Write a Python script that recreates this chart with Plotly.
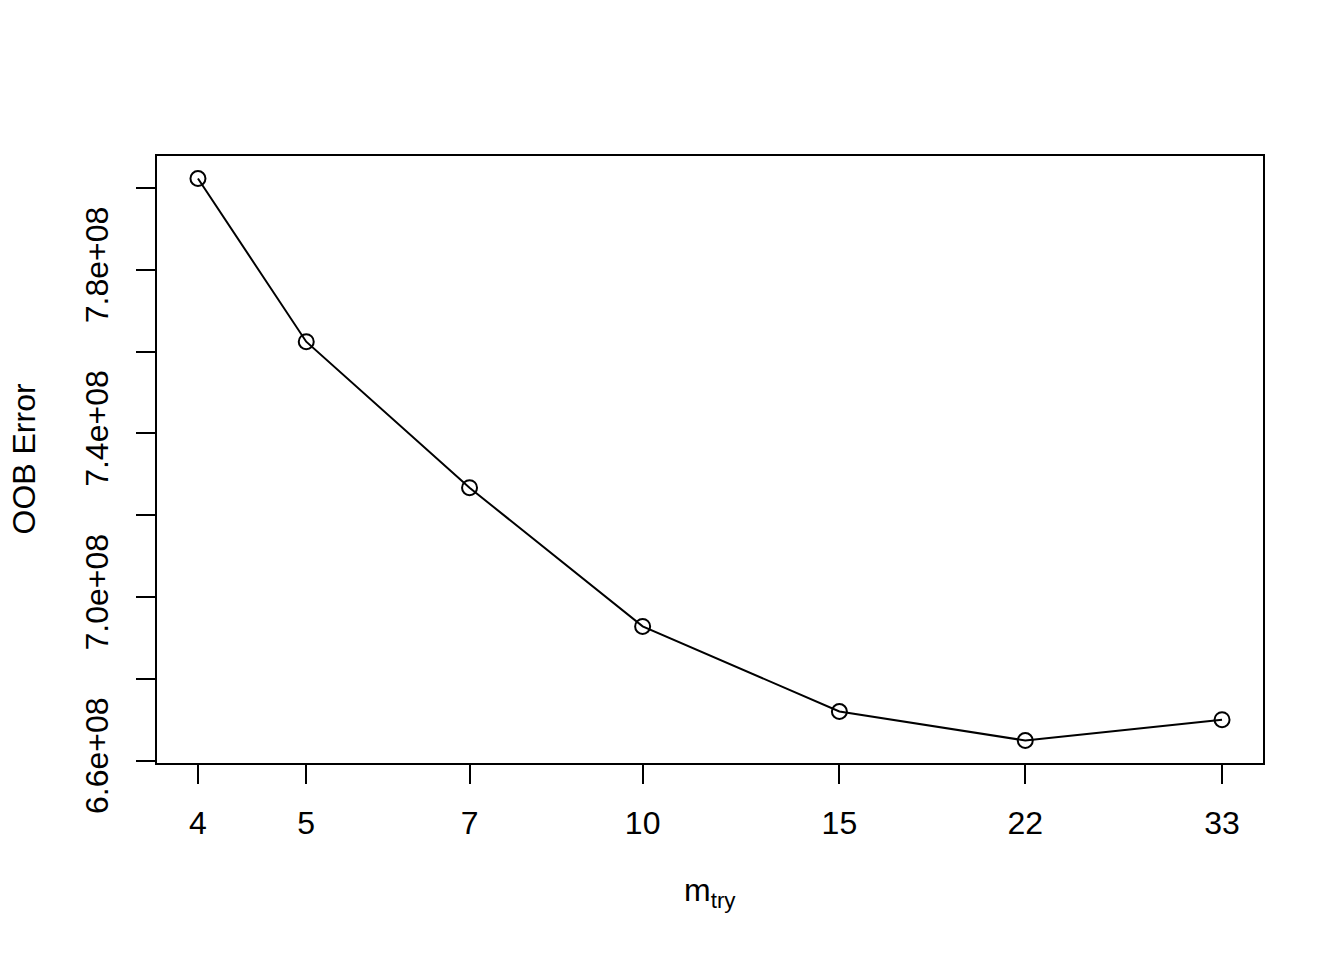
import plotly.graph_objects as go
import numpy as np

mtry = [4, 5, 7, 10, 15, 22, 33]
oob_error = [8.023e8, 7.624e8, 7.267e8, 6.928e8, 6.720e8, 6.649e8, 6.700e8]
x_tick_labels = ["4", "5", "7", "10", "15", "22", "33"]
y_label_vals = [6.6e8, 7.0e8, 7.4e8, 7.8e8]
y_label_text = ["6.6e+08", "7.0e+08", "7.4e+08", "7.8e+08"]
y_minor_vals = [6.8e8, 7.2e8, 7.6e8, 8.0e8]

FONT = "Liberation Sans, Arial, Helvetica, sans-serif"
FS = 32
W, H = 1344, 960
# plot area in reference: x 157..1263, y 156..763 (page renders with ~8px offset)
OFF = 8
PX0, PX1, PY0, PY1 = 157 - OFF, 1263 - OFF, 156 - OFF, 763 - OFF
L, T = PX0, PY0
R, B = W - PX1, H - PY1
PW, PH = PX1 - PX0, PY1 - PY0

fig = go.Figure()
fig.add_trace(go.Scatter(
    x=mtry, y=oob_error, mode="lines+markers",
    line=dict(color="black", width=2),
    marker=dict(symbol="circle-open", size=15, color="black", line=dict(width=2, color="black")),
    showlegend=False, hoverinfo="x+y",
))

lx0, lx1 = np.log10(min(mtry)), np.log10(max(mtry))
dx = 0.04 * (lx1 - lx0)
y0, y1 = min(oob_error), max(oob_error)
dy = 0.04 * (y1 - y0)

fig.update_layout(
    width=W, height=H,
    margin=dict(l=L, r=R, t=T, b=B, pad=0),
    paper_bgcolor="white", plot_bgcolor="white",
    font=dict(family=FONT, size=FS, color="black"),
    xaxis=dict(
        type="log", range=[lx0 - dx, lx1 + dx],
        tickmode="array", tickvals=mtry, ticktext=x_tick_labels,
        ticks="outside", ticklen=19, tickwidth=2, tickcolor="black",
        showline=True, mirror=True, linecolor="black", linewidth=2,
        showgrid=False, zeroline=False,
        tickfont=dict(family=FONT, size=FS, color="black"),
        ticklabelstandoff=12,
    ),
    yaxis=dict(
        range=[y0 - dy, y1 + dy],
        tickmode="array", tickvals=y_label_vals, ticktext=y_label_text,
        ticks="outside", ticklen=19, tickwidth=2, tickcolor="black",
        minor=dict(tickmode="array", tickvals=y_minor_vals, ticks="outside",
                   ticklen=19, tickwidth=2, tickcolor="black", showgrid=False),
        showline=True, mirror=True, linecolor="black", linewidth=2,
        showgrid=False, zeroline=False, tickangle=-90,
        tickfont=dict(family=FONT, size=FS, color="black"),
        ticklabelstandoff=15,
    ),
    annotations=[
        dict(text="m<sub>try</sub>", xref="paper", yref="paper",
             x=0.5, y=-(892 - 763) / PH, xanchor="center", yanchor="middle",
             showarrow=False, font=dict(family=FONT, size=FS, color="black")),
        dict(text="OOB Error", xref="paper", yref="paper",
             x=-(157 - 23) / PW, y=0.5, xanchor="center", yanchor="middle",
             textangle=-90, showarrow=False, borderpad=0,
             font=dict(family=FONT, size=FS, color="black")),
    ],
)

fig.write_html("out.html")
